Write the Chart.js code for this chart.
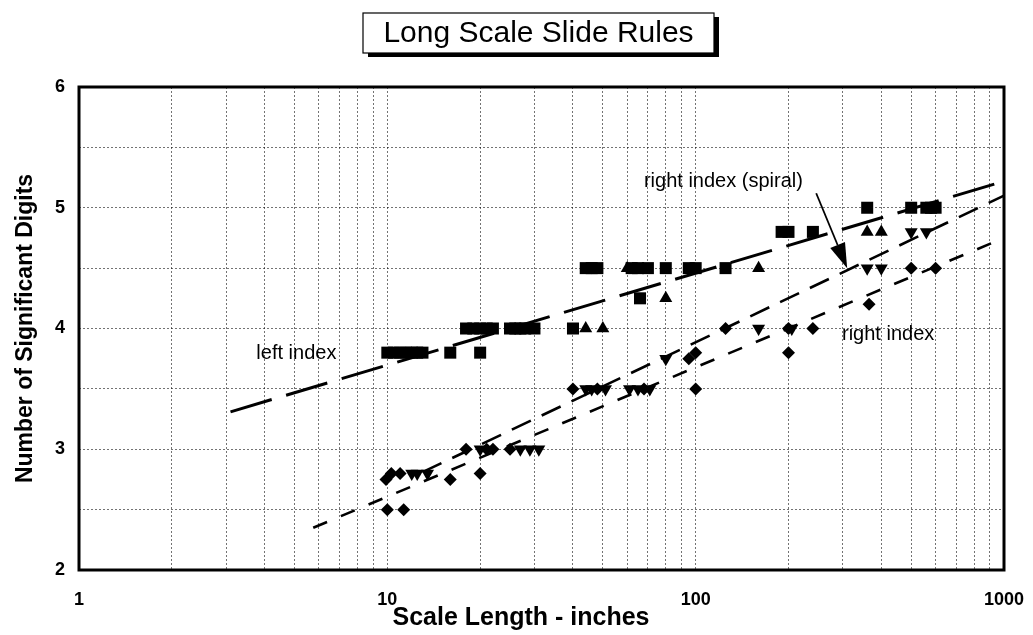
<!DOCTYPE html>
<html>
<head>
<meta charset="utf-8">
<script src="https://cdn.jsdelivr.net/npm/chart.js@4.4.0/dist/chart.umd.min.js"></script>
<style>
html,body{margin:0;padding:0;background:#fff;}
#wrap{width:1033px;height:635px;position:relative;}
</style>
</head>
<body>
<div id="wrap"><canvas id="c" width="1033" height="635"></canvas></div>
<script>
// ---------- DATA ----------
const chartTitle = 'Long Scale Slide Rules';
const xTitle = 'Scale Length - inches';
const yTitle = 'Number of Significant Digits';
const xTickLabels = ['1', '10', '100', '1000'];
const yTickLabels = ['2', '3', '4', '5', '6'];

// squares (left index)
const squareX = [10, 10.5, 11, 11.5, 12, 12.5, 13, 16, 20,
                 18, 19, 20, 21, 22, 25, 26, 27, 28, 30, 40,
                 44, 46, 48, 62, 65, 70, 80, 95, 100, 125,
                 66,
                 190, 200, 240,
                 360, 500, 560, 580, 600];
const squareY = [3.8, 3.8, 3.8, 3.8, 3.8, 3.8, 3.8, 3.8, 3.8,
                 4.0, 4.0, 4.0, 4.0, 4.0, 4.0, 4.0, 4.0, 4.0, 4.0, 4.0,
                 4.5, 4.5, 4.5, 4.5, 4.5, 4.5, 4.5, 4.5, 4.5, 4.5,
                 4.25,
                 4.8, 4.8, 4.8,
                 5.0, 5.0, 5.0, 5.0, 5.0];
// triangles up
const triUpX = [44, 50, 60, 160, 80, 360, 400];
const triUpY = [4.0, 4.0, 4.5, 4.5, 4.25, 4.8, 4.8];
// triangles down
const triDownX = [12, 12.5, 13.5, 20, 27, 29, 31, 44, 46, 51, 61, 65, 71, 80, 160, 205, 360, 400, 500, 560];
const triDownY = [2.8, 2.8, 2.8, 3.0, 3.0, 3.0, 3.0, 3.5, 3.5, 3.5, 3.5, 3.5, 3.5, 3.75, 4.0, 4.0, 4.5, 4.5, 4.8, 4.8];
// diamonds
const diamondX = [10, 11.3, 9.9, 10.3, 11, 16, 20, 18, 21, 22, 25, 40, 48, 68, 100, 95, 100, 125, 200, 240, 200, 365, 500, 600];
const diamondY = [2.5, 2.5, 2.75, 2.8, 2.8, 2.75, 2.8, 3.0, 3.0, 3.0, 3.0, 3.5, 3.5, 3.5, 3.5, 3.75, 3.8, 4.0, 4.0, 4.0, 3.8, 4.2, 4.5, 4.5];

// trend lines
const leftIndexX = [3.1, 1000];
const leftIndexY = [3.31, 5.22];
const spiralX = [13, 1000];
const spiralY = [2.81, 5.10];
const rightIndexX = [5.75, 1000];
const rightIndexY = [2.35, 4.75];

// ---------- CHART ----------
const FONT = "'Liberation Sans', Arial, Helvetica, sans-serif";
Chart.defaults.font.family = FONT;
Chart.defaults.color = '#000';

const pts = (xs, ys) => xs.map((x, i) => ({x: x, y: ys[i]}));

const W = 1033, H = 635;
const AREA_LEFT = 79, AREA_RIGHT = 1004, AREA_TOP = 87, AREA_BOTTOM = 570;

const xGrid = [];
[1, 10, 100].forEach(d => { for (let m = 1; m < 10; m++) xGrid.push(m * d); });
xGrid.push(1000);

const framePlugin = {
  id: 'frame',
  beforeDatasetsDraw(chart) {
    const {ctx, chartArea: a} = chart;
    ctx.save();
    ctx.lineWidth = 3;
    ctx.strokeStyle = '#000';
    ctx.strokeRect(a.left, a.top, a.right - a.left, a.bottom - a.top);
    ctx.restore();
  }
};

const annotPlugin = {
  id: 'annot',
  afterDatasetsDraw(chart) {
    const {ctx} = chart;
    const sx = chart.scales.x, sy = chart.scales.y;
    const P = (x, y) => [sx.getPixelForValue(x), sy.getPixelForValue(y)];
    ctx.save();
    ctx.fillStyle = '#000';
    ctx.font = '20px ' + FONT;
    ctx.textAlign = 'center';
    ctx.textBaseline = 'middle';
    let p = P(5.07, 3.79); ctx.fillText('left index', p[0], p[1]);
    p = P(421, 3.95); ctx.fillText('right index', p[0], p[1]);
    p = P(123, 5.22); ctx.fillText('right index (spiral)', p[0], p[1]);
    // arrow
    const s = P(246, 5.12), t = P(310, 4.5);
    const ang = Math.atan2(t[1] - s[1], t[0] - s[0]);
    const L = 25, hw = 8;
    const bx = t[0] - L * Math.cos(ang), by = t[1] - L * Math.sin(ang);
    ctx.strokeStyle = '#000';
    ctx.lineWidth = 1.8;
    ctx.beginPath(); ctx.moveTo(s[0], s[1]); ctx.lineTo(bx, by); ctx.stroke();
    ctx.beginPath();
    ctx.moveTo(t[0], t[1]);
    ctx.lineTo(bx + hw * Math.sin(ang), by - hw * Math.cos(ang));
    ctx.lineTo(bx - hw * Math.sin(ang), by + hw * Math.cos(ang));
    ctx.closePath(); ctx.fill();
    ctx.restore();
  }
};

const titlePlugin = {
  id: 'boxTitle',
  afterDraw(chart) {
    const {ctx} = chart;
    ctx.save();
    const bx = 363, by = 13, bw = 351, bh = 40;
    ctx.fillStyle = '#000';
    ctx.fillRect(bx + 5, by + 4, bw, bh);
    ctx.fillStyle = '#fff';
    ctx.fillRect(bx, by, bw, bh);
    ctx.strokeStyle = '#000';
    ctx.lineWidth = 1.2;
    ctx.strokeRect(bx, by, bw, bh);
    ctx.fillStyle = '#000';
    ctx.font = '30px ' + FONT;
    ctx.textAlign = 'center';
    ctx.textBaseline = 'middle';
    ctx.fillText(chartTitle, bx + bw / 2, by + bh / 2 + 1);
    // x axis title (slightly left of plot centre, as in the original)
    ctx.font = 'bold 25px ' + FONT;
    ctx.fillText(xTitle, 521, 618);
    ctx.restore();
  }
};

const markerBase = {backgroundColor: '#000', borderColor: '#000', borderWidth: 0, showLine: false, order: 1};
const lineBase = {showLine: true, pointRadius: 0, borderColor: '#000', fill: false, order: 2, borderCapStyle: 'butt'};

new Chart(document.getElementById('c'), {
  type: 'scatter',
  data: {
    datasets: [
      Object.assign({}, lineBase, {label: 'left index', data: pts(leftIndexX, leftIndexY), borderWidth: 3, borderDash: [43, 15]}),
      Object.assign({}, lineBase, {label: 'right index (spiral)', data: pts(spiralX, spiralY), borderWidth: 2.6, borderDash: [21, 12]}),
      Object.assign({}, lineBase, {label: 'right index', data: pts(rightIndexX, rightIndexY), borderWidth: 2.6, borderDash: [15, 15]}),
      Object.assign({}, markerBase, {label: 'squares', data: pts(squareX, squareY), pointStyle: 'rect', pointRadius: 8.5}),
      Object.assign({}, markerBase, {label: 'up', data: pts(triUpX, triUpY), pointStyle: 'triangle', pointRadius: 7.5}),
      Object.assign({}, markerBase, {label: 'down', data: pts(triDownX, triDownY), pointStyle: 'triangle', rotation: 180, pointRadius: 7.5}),
      Object.assign({}, markerBase, {label: 'diamonds', data: pts(diamondX, diamondY), pointStyle: 'rectRot', pointRadius: 6.5})
    ]
  },
  options: {
    responsive: false,
    animation: false,
    layout: {padding: {left: 0, right: W - AREA_RIGHT, top: AREA_TOP, bottom: 0}},
    plugins: {legend: {display: false}, tooltip: {enabled: false}, title: {display: false}},
    elements: {point: {hoverRadius: 0}},
    scales: {
      x: {
        type: 'logarithmic', min: 1, max: 1000,
        afterBuildTicks: s => { s.ticks = xGrid.map(v => ({value: v})); },
        afterFit: s => { s.height = H - AREA_BOTTOM; s.paddingLeft = 0; s.paddingRight = 0; },
        ticks: {
          autoSkip: false, maxRotation: 0, minRotation: 0, padding: 19,
          font: {size: 18, weight: 'bold'},
          callback: v => xTickLabels.includes(String(v)) ? String(v) : ''
        },
        grid: {color: 'rgba(0,0,0,0.55)', lineWidth: 1, drawTicks: false},
        border: {display: false, dash: [2, 2]},
        title: {display: false}
      },
      y: {
        type: 'linear', min: 2, max: 6,
        afterFit: s => { s.width = AREA_LEFT; s.paddingTop = 0; s.paddingBottom = 0; },
        ticks: {
          stepSize: 0.5, padding: 14,
          font: {size: 18, weight: 'bold'},
          callback: v => yTickLabels.includes(String(v)) ? String(v) : ''
        },
        grid: {color: 'rgba(0,0,0,0.55)', lineWidth: 1, drawTicks: false},
        border: {display: false, dash: [2, 2]},
        title: {display: true, text: yTitle, font: {size: 23, weight: 'bold'}, padding: {top: 12, bottom: 0}}
      }
    }
  },
  plugins: [framePlugin, annotPlugin, titlePlugin]
});
</script>
</body>
</html>
